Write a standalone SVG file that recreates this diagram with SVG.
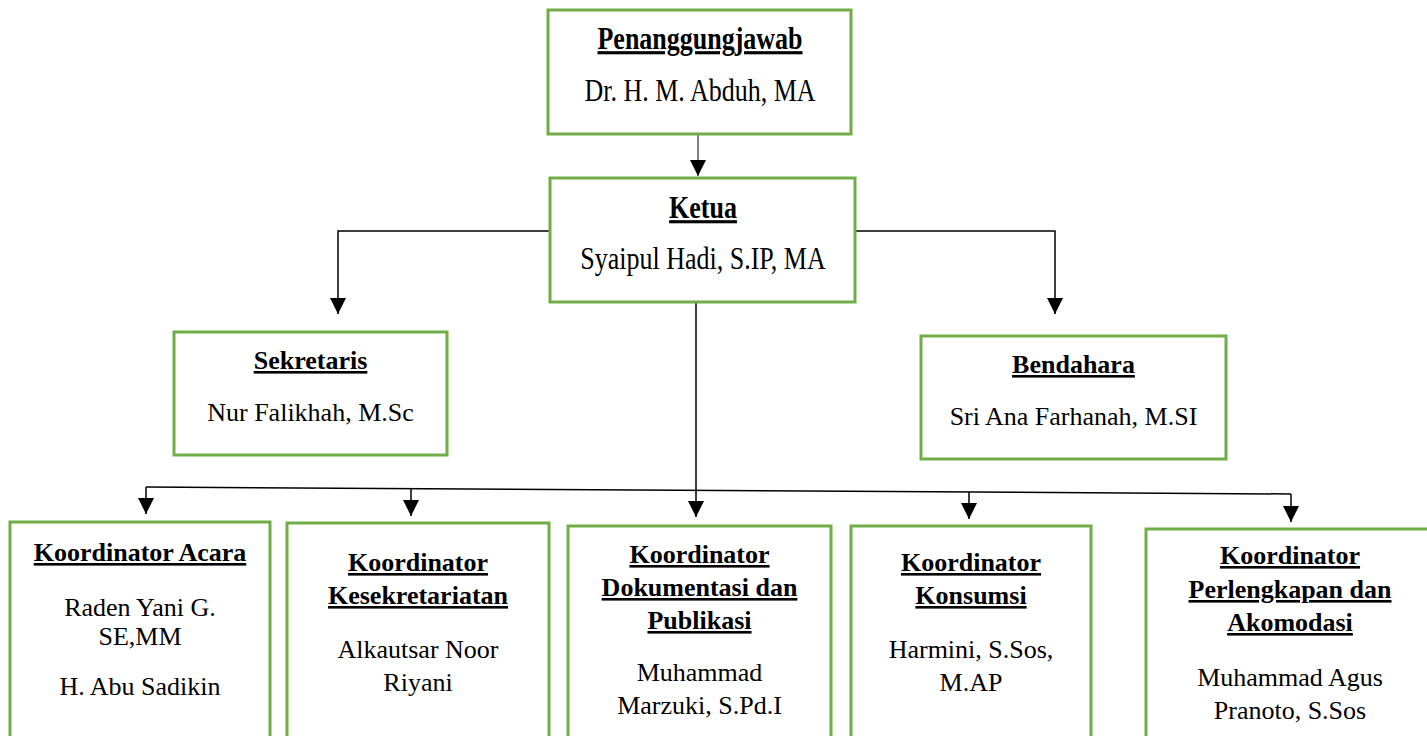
<svg xmlns="http://www.w3.org/2000/svg" width="1427" height="736" viewBox="0 0 1427 736">
<style>
.box{fill:#fff;stroke:#70ad47;stroke-width:3}
.t{font-family:"Liberation Serif","Times New Roman",serif;font-size:26px;fill:#000;text-anchor:middle}
.h{font-weight:bold;text-decoration:underline}
.c{fill:none;stroke:#000;stroke-width:1.5}
</style>
<defs>
<marker id="ar" markerUnits="userSpaceOnUse" markerWidth="17" markerHeight="16" refX="16" refY="8" orient="auto" viewBox="0 0 17 16">
<path d="M0,0 L16,8 L0,16 Z" fill="#000"/>
</marker>
</defs>
<rect width="1427" height="736" fill="#fff"/>
<g id="connectors">
<path class="c" d="M698,134 V176" marker-end="url(#ar)" style="stroke:#555"/>
<path class="c" d="M550,231 H338 V314" marker-end="url(#ar)"/>
<path class="c" d="M855,231 H1055 V314" marker-end="url(#ar)"/>
<path class="c" d="M696,302 V517" marker-end="url(#ar)"/>
<path class="c" d="M146,487 L1291,494"/>
<path class="c" d="M146,487 V514" marker-end="url(#ar)"/>
<path class="c" d="M411,488.6 V516" marker-end="url(#ar)"/>
<path class="c" d="M969,492 V519" marker-end="url(#ar)"/>
<path class="c" d="M1291,494 V522" marker-end="url(#ar)"/>
</g>
<g id="penanggungjawab">
<rect class="box" x="548" y="10" width="303" height="124"/>
<text class="t h" transform="translate(700,49) scale(1,1.2)">Penanggungjawab</text>
<text class="t" transform="translate(700,101) scale(1,1.2)">Dr. H. M. Abduh, MA</text>
</g>
<g id="ketua">
<rect class="box" x="550" y="178" width="305" height="124"/>
<text class="t h" transform="translate(703,218) scale(1,1.2)">Ketua</text>
<text class="t" transform="translate(703,269) scale(1,1.2)">Syaipul Hadi, S.IP, MA</text>
</g>
<g id="sekretaris">
<rect class="box" x="174" y="332" width="273" height="123"/>
<text class="t h" x="310.5" y="369">Sekretaris</text>
<text class="t" x="310.5" y="421">Nur Falikhah, M.Sc</text>
</g>
<g id="bendahara">
<rect class="box" x="921" y="336" width="305" height="123"/>
<text class="t h" x="1073.5" y="373">Bendahara</text>
<text class="t" x="1073.5" y="425">Sri Ana Farhanah, M.SI</text>
</g>
<g id="koord-acara">
<rect class="box" x="10" y="522" width="260" height="230"/>
<text class="t h" x="140" y="561">Koordinator Acara</text>
<text class="t" x="140" y="616">Raden Yani G.</text>
<text class="t" x="140" y="645">SE,MM</text>
<text class="t" x="140" y="695">H. Abu Sadikin</text>
</g>
<g id="koord-kesekretariatan">
<rect class="box" x="287" y="523" width="262" height="230"/>
<text class="t h" x="418" y="571">Koordinator</text>
<text class="t h" x="418" y="604">Kesekretariatan</text>
<text class="t" x="418" y="658">Alkautsar Noor</text>
<text class="t" x="418" y="691">Riyani</text>
</g>
<g id="koord-dokumentasi">
<rect class="box" x="568" y="526" width="263" height="230"/>
<text class="t h" x="699.5" y="563">Koordinator</text>
<text class="t h" x="699.5" y="596">Dokumentasi dan</text>
<text class="t h" x="699.5" y="629">Publikasi</text>
<text class="t" x="699.5" y="681">Muhammad</text>
<text class="t" x="699.5" y="714">Marzuki, S.Pd.I</text>
</g>
<g id="koord-konsumsi">
<rect class="box" x="851" y="526" width="240" height="230"/>
<text class="t h" x="971" y="571">Koordinator</text>
<text class="t h" x="971" y="604">Konsumsi</text>
<text class="t" x="971" y="658">Harmini, S.Sos,</text>
<text class="t" x="971" y="691">M.AP</text>
</g>
<g id="koord-perlengkapan">
<rect class="box" x="1146" y="529" width="290" height="230"/>
<text class="t h" x="1290" y="564">Koordinator</text>
<text class="t h" x="1290" y="598">Perlengkapan dan</text>
<text class="t h" x="1290" y="631">Akomodasi</text>
<text class="t" x="1290" y="686">Muhammad Agus</text>
<text class="t" x="1290" y="719">Pranoto, S.Sos</text>
</g>
</svg>
